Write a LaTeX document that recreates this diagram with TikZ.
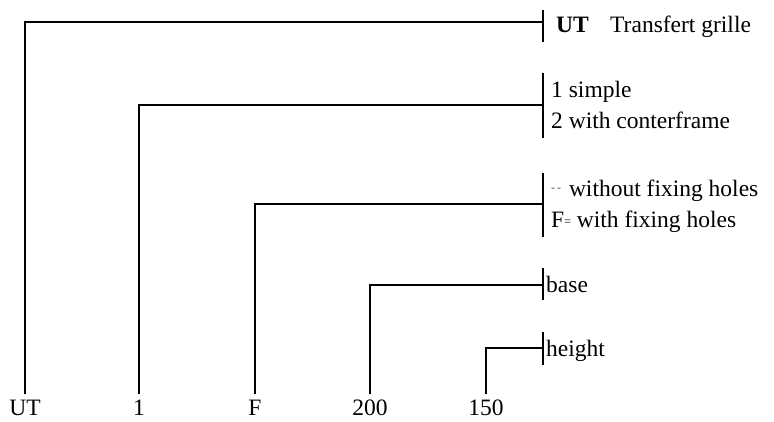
\documentclass[tikz,border=0pt]{standalone}
\usepackage{fontspec}
\setmainfont{Liberation Serif}
\begin{document}
\begin{tikzpicture}[x=1pt,y=-1pt,
  conn/.style={line width=1.6pt,shorten <=5pt},
  barline/.style={line width=1.6pt},
  txt/.style={anchor=base west,inner sep=0pt,font=\fontsize{23.5}{28}\selectfont},
  lab/.style={anchor=base,inner sep=0pt,font=\fontsize{23.5}{28}\selectfont}]
\useasboundingbox (0,0) rectangle (774,421);
% bars
\coordinate (b1t) at (543,10); \coordinate (b1b) at (543,42); \coordinate (b1) at (543,22);
\coordinate (b2t) at (543,73); \coordinate (b2b) at (543,138); \coordinate (b2) at (543,105);
\coordinate (b3t) at (543,173); \coordinate (b3b) at (543,237); \coordinate (b3) at (543,204);
\coordinate (b4t) at (543,268); \coordinate (b4b) at (543,300); \coordinate (b4) at (543,285);
\coordinate (b5t) at (543,332); \coordinate (b5b) at (543,365); \coordinate (b5) at (543,348);
\foreach \i in {1,...,5} {\draw[barline] (b\i t) -- (b\i b);}
% texts
\node[txt] (t1a) at (556,32) {\textbf{UT}};
\node[txt] (t1b) at (610,32) {Transfert grille};
\node[txt] (t2a) at (551,97) {1 simple};
\node[txt] (t2b) at (551,128) {2 with conterframe};
\node[txt] (t3a) at (551,196) {{\fontsize{12}{12}\selectfont\color{black!70}\raisebox{5pt}{-\,-}}\,\,without fixing holes};
\node[txt] (t3b) at (551,227) {F{\fontsize{12}{12}\selectfont\raisebox{2pt}{=}} with fixing holes};
\node[txt] (t4) at (546,292) {base};
\node[txt] (t5) at (546,356) {height};
% bottom labels
\node[lab] (l1) at (25,415) {UT};
\node[lab] (l2) at (139,415) {1};
\node[lab] (l3) at (255,415) {F};
\node[lab] (l4) at (370,415) {200};
\node[lab] (l5) at (486,415) {150};
% connectors
\draw[conn] (l1.north) |- (b1);
\draw[conn] (l2.north) |- (b2);
\draw[conn] (l3.north) |- (b3);
\draw[conn] (l4.north) |- (b4);
\draw[conn] (l5.north) |- (b5);
\end{tikzpicture}
\end{document}
